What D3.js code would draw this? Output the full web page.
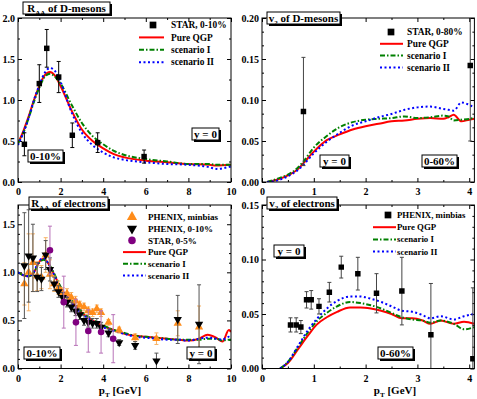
<!DOCTYPE html>
<html>
<head>
<meta charset="utf-8">
<script src="https://cdn.jsdelivr.net/npm/d3@7"></script>
<style>
  body { margin: 0; background: #fff; }
  svg { display: block; }
</style>
</head>
<body>
<svg id="chart" width="477" height="399"></svg>
<script>
// ---- D-meson R_AA (top left) ----
const dRaaX   = [0, 0.25, 0.5, 0.75, 1, 1.25, 1.5, 1.75, 2, 2.5, 3, 3.5, 4, 4.5, 5, 6, 7, 8, 9, 9.3, 10];
const dRaaQGP = [0.47, 0.62, 0.8, 1.0, 1.17, 1.3, 1.34, 1.29, 1.17, 0.88, 0.64, 0.5, 0.41, 0.34, 0.3, 0.26, 0.24, 0.22, 0.21, 0.2, 0.21];
const dRaaS1  = [0.47, 0.6, 0.78, 0.98, 1.15, 1.28, 1.32, 1.28, 1.2, 0.95, 0.72, 0.56, 0.46, 0.38, 0.33, 0.28, 0.25, 0.22, 0.22, 0.21, 0.21];
const dRaaS2  = [0.45, 0.6, 0.78, 1.0, 1.18, 1.33, 1.39, 1.35, 1.22, 0.86, 0.6, 0.45, 0.36, 0.3, 0.27, 0.24, 0.22, 0.21, 0.18, 0.16, 0.19];
const starDX  = [0.3, 1.0, 1.35, 1.91, 2.55, 3.74, 5.92];
const starDY  = [0.46, 1.2, 1.63, 1.28, 0.57, 0.48, 0.31];
const starDE  = [0.14, 0.23, 0.23, 0.19, 0.15, 0.12, 0.08];

// ---- D-meson v2 (top right) ----
const dV2X   = [0.1, 0.3, 0.5, 0.7, 0.8, 1.0, 1.25, 1.5, 1.75, 2.0, 2.25, 2.5, 2.75, 3.0, 3.25, 3.5, 3.6, 3.7, 3.85, 4.0, 4.1];
const dV2QGP = [0, 0.003, 0.008, 0.016, 0.023, 0.037, 0.051, 0.058, 0.064, 0.068, 0.071, 0.074, 0.075, 0.077, 0.078, 0.077, 0.079, 0.082, 0.074, 0.076, 0.077];
const dV2S1  = [0, 0.004, 0.009, 0.018, 0.025, 0.042, 0.056, 0.067, 0.073, 0.076, 0.077, 0.078, 0.08, 0.078, 0.079, 0.081, 0.08, 0.075, 0.076, 0.077, 0.078];
const dV2S2  = [0, 0.002, 0.007, 0.015, 0.021, 0.035, 0.049, 0.06, 0.069, 0.074, 0.079, 0.083, 0.088, 0.091, 0.092, 0.089, 0.088, 0.087, 0.097, 0.094, 0.091];
const starV2X = [0.8, 4.02];
const starV2Y = [0.086, 0.142];
const starV2E = [0.066, 0.092];

// ---- electron R_AA (bottom left) ----
const eRaaX   = [0, 0.25, 0.5, 0.75, 1, 1.2, 1.4, 1.6, 1.8, 2, 2.5, 3, 3.5, 4, 4.5, 5, 5.5, 6, 6.5, 7, 7.5, 8, 8.5, 8.9, 9.3, 9.6, 9.9, 10];
const eRaaQGP = [1.0, 0.97, 0.96, 1.0, 1.11, 1.14, 1.1, 1.02, 0.93, 0.84, 0.7, 0.58, 0.5, 0.44, 0.4, 0.36, 0.34, 0.33, 0.32, 0.31, 0.3, 0.29, 0.31, 0.35, 0.32, 0.28, 0.4, 0.38];
const eRaaS1  = [1.0, 0.97, 0.96, 1.0, 1.1, 1.13, 1.1, 1.03, 0.94, 0.85, 0.71, 0.59, 0.51, 0.45, 0.4, 0.37, 0.34, 0.33, 0.32, 0.31, 0.3, 0.3, 0.3, 0.31, 0.31, 0.29, 0.3, 0.3];
const eRaaS2  = [1.0, 0.97, 0.96, 1.01, 1.12, 1.15, 1.1, 1.02, 0.92, 0.83, 0.69, 0.57, 0.49, 0.43, 0.39, 0.36, 0.33, 0.32, 0.31, 0.3, 0.3, 0.29, 0.31, 0.32, 0.31, 0.3, 0.33, 0.32];
const phxMbX = [0.3, 0.5, 0.7, 0.9, 1.1, 1.3, 1.5, 1.7, 1.9, 2.1, 2.3, 2.5, 2.7, 2.9, 3.1, 3.3, 3.5, 3.7, 3.9, 4.25, 4.75, 5.5, 6.5, 7.5, 8.5];
const phxMbY = [0.88, 1.0, 1.1, 0.96, 0.95, 1.18, 0.98, 0.88, 0.84, 0.78, 0.78, 0.74, 0.7, 0.66, 0.64, 0.6, 0.58, 0.62, 0.58, 0.48, 0.4, 0.32, 0.31, 0.47, 0.43];
const phxMbE = [0.22, 0.4, 0.3, 0.15, 0.12, 0.18, 0.15, 0.08, 0.07, 0.06, 0.05, 0.05, 0.05, 0.04, 0.04, 0.04, 0.04, 0.04, 0.04, 0.03, 0.03, 0.04, 0.06, 0.13, 0.22];
const phxCX = [0.3, 0.5, 0.7, 0.9, 1.1, 1.3, 1.5, 1.7, 1.9, 2.1, 2.3, 2.5, 2.7, 2.9, 3.1, 3.3, 3.5, 3.7, 3.9, 4.25, 4.75, 5.5, 6.5, 7.5, 8.5];
const phxCY = [1.07, 1.17, 1.15, 0.95, 0.93, 1.18, 1.03, 0.88, 0.8, 0.74, 0.69, 0.64, 0.6, 0.56, 0.5, 0.48, 0.47, 0.47, 0.43, 0.37, 0.27, 0.24, 0.08, 0.51, 0.46];
const phxCE = [0.55, 0.48, 0.35, 0.15, 0.12, 0.15, 0.12, 0.07, 0.06, 0.05, 0.05, 0.05, 0.05, 0.05, 0.05, 0.05, 0.05, 0.05, 0.05, 0.04, 0.03, 0.04, 0.08, 0.25, 0.41];
const starEX = [1.5, 2.15, 2.72, 3.3, 3.9, 4.47];
const starEY = [1.23, 0.69, 0.48, 0.39, 0.38, 0.31];
const starEE = [0.25, 0.27, 0.24, 0.22, 0.22, 0.25];

// ---- electron v2 (bottom right) ----
const eV2X   = [0.35, 0.5, 0.7, 0.9, 1.05, 1.25, 1.45, 1.7, 1.9, 2.1, 2.3, 2.5, 2.7, 2.9, 3.1, 3.25, 3.45, 3.7, 3.9, 4.1];
const eV2QGP = [0, 0.005, 0.018, 0.031, 0.04, 0.047, 0.052, 0.056, 0.056, 0.055, 0.053, 0.05, 0.046, 0.046, 0.044, 0.041, 0.044, 0.041, 0.043, 0.041];
const eV2S1  = [0, 0.006, 0.02, 0.034, 0.043, 0.051, 0.057, 0.061, 0.06, 0.058, 0.055, 0.051, 0.047, 0.045, 0.044, 0.042, 0.044, 0.041, 0.036, 0.038];
const eV2S2  = [0, 0.006, 0.021, 0.036, 0.045, 0.055, 0.062, 0.066, 0.066, 0.064, 0.061, 0.057, 0.053, 0.052, 0.049, 0.046, 0.048, 0.045, 0.048, 0.05];
const phxV2X = [0.55, 0.66, 0.75, 0.86, 0.95, 1.1, 1.3, 1.53, 1.85, 2.21, 2.7, 3.26, 4.07];
const phxV2Y = [0.04, 0.04, 0.038, 0.063, 0.063, 0.057, 0.07, 0.093, 0.087, 0.069, 0.071, 0.031, 0.009];
const phxV2E = [0.0065, 0.0065, 0.006, 0.0075, 0.0085, 0.007, 0.009, 0.01, 0.015, 0.018, 0.031, 0.047, 0.065];

const SERIF = "'Liberation Serif', 'Times New Roman', serif";
const QGP = { name: "Pure QGP", color: "#ff0000", dash: null };
const SC1 = { name: "scenario I", color: "#008000", dash: "5,2,1.5,2" };
const SC2 = { name: "scenario II", color: "#0000ff", dash: "2,2.5" };

const svg = d3.select("#chart");
svg.append("rect").attr("width", 477).attr("height", 399).attr("fill", "#fff");

const zip = (xs, ys, es) => xs.map((v, i) => ({ x: v, y: ys[i], e: es ? es[i] : 0 }));

function drawAxis(g, axis, tr) {
  const a = g.append("g").attr("transform", tr).call(axis);
  a.select(".domain").remove();
  a.attr("font-family", SERIF).attr("font-weight", "bold").attr("font-size", 10);
  a.selectAll("line").attr("stroke", "#000");
  return a;
}

function marker(g, type, x, y, color, size) {
  const sym = { square: d3.symbolSquare, up: d3.symbolTriangle, down: d3.symbolTriangle, circle: d3.symbolCircle }[type];
  g.append("path")
    .attr("d", d3.symbol().type(sym).size(size)())
    .attr("transform", `translate(${x},${y})` + (type === "down" ? " rotate(180)" : ""))
    .attr("fill", color);
}

function panel(p) {
  const g = svg.append("g");
  const x = d3.scaleLinear().domain(p.xDomain).range([p.left, p.right]);
  const y = d3.scaleLinear().domain(p.yDomain).range([p.bottom, p.top]);

  svg.append("clipPath").attr("id", "clip" + p.id)
    .append("rect").attr("x", p.left).attr("y", p.top)
    .attr("width", p.right - p.left).attr("height", p.bottom - p.top);

  // ticks, inward on all four sides
  drawAxis(g, d3.axisBottom(x).tickValues(p.xTicks).tickSizeInner(-4).tickSizeOuter(0).tickPadding(6).tickFormat(d3.format("d")), `translate(0,${p.bottom})`);
  drawAxis(g, d3.axisBottom(x).tickValues(p.xMinor).tickSize(-2).tickFormat(""), `translate(0,${p.bottom})`);
  drawAxis(g, d3.axisTop(x).tickValues(p.xTicks).tickSize(-4).tickFormat(""), `translate(0,${p.top})`);
  drawAxis(g, d3.axisTop(x).tickValues(p.xMinor).tickSize(-2).tickFormat(""), `translate(0,${p.top})`);
  drawAxis(g, d3.axisLeft(y).tickValues(p.yTicks).tickSizeInner(-4).tickSizeOuter(0).tickPadding(3).tickFormat(d3.format(p.yFmt)), `translate(${p.left},0)`);
  drawAxis(g, d3.axisLeft(y).tickValues(p.yMinor).tickSize(-2).tickFormat(""), `translate(${p.left},0)`);
  drawAxis(g, d3.axisRight(y).tickValues(p.yTicks).tickSize(-4).tickFormat(""), `translate(${p.right},0)`);
  drawAxis(g, d3.axisRight(y).tickValues(p.yMinor).tickSize(-2).tickFormat(""), `translate(${p.right},0)`);

  const plot = g.append("g").attr("clip-path", `url(#clip${p.id})`);

  // curves
  const line = d3.line().x(d => x(d.x)).y(d => y(d.y)).curve(d3.curveMonotoneX);
  p.curves.forEach(c => {
    plot.append("path").datum(zip(p.curveX, c.values))
      .attr("d", line).attr("fill", "none")
      .attr("stroke", c.style.color).attr("stroke-width", 2)
      .attr("stroke-dasharray", c.style.dash);
  });

  // data points with error bars
  p.points.forEach(s => {
    zip(s.x, s.y, s.e).forEach(d => {
      const x0 = x(d.x), yt = y(d.y + d.e), yb = y(d.y - d.e);
      plot.append("line").attr("x1", x0).attr("x2", x0).attr("y1", yt).attr("y2", yb)
        .attr("stroke", s.bar).attr("stroke-width", 1);
      [yt, yb].forEach(yy => plot.append("line").attr("x1", x0 - 2).attr("x2", x0 + 2)
        .attr("y1", yy).attr("y2", yy).attr("stroke", s.bar).attr("stroke-width", 1));
    });
    s.x.forEach((v, i) => marker(plot, s.type, x(v), y(s.y[i]), s.color, s.size));
  });

  // frame
  g.append("rect").attr("x", p.left).attr("y", p.top)
    .attr("width", p.right - p.left).attr("height", p.bottom - p.top)
    .attr("fill", "none").attr("stroke", "#000").attr("stroke-width", 1);

  // legend
  const lg = g.append("g").attr("font-family", SERIF).attr("font-weight", "bold").attr("font-size", p.legend.font);
  p.legend.entries.forEach((en, i) => {
    const ly = p.legend.y + i * p.legend.step;
    if (en.style) {
      lg.append("line").attr("x1", p.legend.lineX[0]).attr("x2", p.legend.lineX[1])
        .attr("y1", ly).attr("y2", ly).attr("stroke", en.style.color)
        .attr("stroke-width", 2).attr("stroke-dasharray", en.style.dash);
    } else {
      marker(lg, en.type, p.legend.markX, ly, en.color, en.size);
    }
    lg.append("text").attr("x", p.legend.textX).attr("y", ly).attr("dy", "0.35em")
      .text(en.style ? en.style.name : en.label);
  });

  p.boxes.forEach(b => labelBox(b));
}

function labelBox(b) {
  const g = svg.append("g");
  g.append("rect").attr("x", b.x + 2).attr("y", b.y + 2).attr("width", b.w).attr("height", b.h).attr("fill", "#000");
  g.append("rect").attr("x", b.x).attr("y", b.y).attr("width", b.w).attr("height", b.h)
    .attr("fill", "#fff").attr("stroke", "#000").attr("stroke-width", 1);
  const t = g.append("text").attr("x", b.x + b.w / 2).attr("y", b.y + b.h / 2).attr("dy", "0.35em")
    .attr("text-anchor", "middle").attr("font-family", SERIF).attr("font-weight", "bold").attr("font-size", 11);
  if (b.sub) {
    t.append("tspan").text(b.main);
    t.append("tspan").attr("font-size", 7).attr("dy", 3).text(b.sub);
    t.append("tspan").attr("dy", -3).text(b.rest);
  } else {
    t.text(b.main);
  }
}

function xTitle(cx) {
  const t = svg.append("text").attr("x", cx).attr("y", 390).attr("dy", "0.35em")
    .attr("text-anchor", "middle").attr("font-family", SERIF).attr("font-weight", "bold").attr("font-size", 11);
  t.append("tspan").text("p");
  t.append("tspan").attr("font-size", 7).attr("dy", 3).text("T");
  t.append("tspan").attr("dy", -3).text(" [GeV]");
}

const rng = (a, b, s) => d3.range(a, b + s / 2, s);

panel({
  id: "tl", left: 18, right: 231, top: 18, bottom: 182,
  xDomain: [0, 10], yDomain: [0, 2], xTicks: rng(0, 10, 2), xMinor: rng(1, 9, 2),
  yTicks: rng(0, 2, 0.5), yMinor: rng(0.25, 1.75, 0.5), yFmt: ".1f",
  curveX: dRaaX,
  curves: [{ values: dRaaQGP, style: QGP }, { values: dRaaS1, style: SC1 }, { values: dRaaS2, style: SC2 }],
  points: [{ x: starDX, y: starDY, e: starDE, type: "square", color: "#000", bar: "#000", size: 30 }],
  legend: { y: 25, step: 12.4, markX: 153, lineX: [139, 164], textX: 171, font: 9.4,
    entries: [{ type: "square", color: "#000", size: 45, label: "STAR, 0-10%" }, { style: QGP }, { style: SC1 }, { style: SC2 }] },
  boxes: [
    { x: 23, y: 2, w: 87, h: 12, main: "R", sub: "AA", rest: " of D-mesons" },
    { x: 28, y: 150, w: 35, h: 12, main: "0-10%" },
    { x: 192, y: 128, w: 27, h: 12, main: "y = 0" }
  ]
});

panel({
  id: "tr", left: 262, right: 474.4, top: 18, bottom: 182,
  xDomain: [0, 4.1], yDomain: [0, 0.2], xTicks: rng(0, 4, 1), xMinor: rng(0.5, 3.5, 1),
  yTicks: rng(0, 0.2, 0.05), yMinor: d3.range(0, 0.2, 0.05).flatMap(v => [v + 0.05 / 3, v + 0.1 / 3]), yFmt: ".2f",
  curveX: dV2X,
  curves: [{ values: dV2QGP, style: QGP }, { values: dV2S1, style: SC1 }, { values: dV2S2, style: SC2 }],
  points: [{ x: starV2X, y: starV2Y, e: starV2E, type: "square", color: "#000", bar: "#444", size: 30 }],
  legend: { y: 32, step: 11.8, markX: 391, lineX: [380, 403], textX: 407, font: 9.4,
    entries: [{ type: "square", color: "#000", size: 45, label: "STAR, 0-80%" }, { style: QGP }, { style: SC1 }, { style: SC2 }] },
  boxes: [
    { x: 267, y: 12, w: 73, h: 12, main: "v", sub: "2", rest: " of D-mesons" },
    { x: 320, y: 155, w: 29, h: 12, main: "y = 0" },
    { x: 422, y: 155, w: 35, h: 12, main: "0-60%" }
  ]
});

panel({
  id: "bl", left: 18, right: 231, top: 205, bottom: 368.5,
  xDomain: [0, 10], yDomain: [0, 1.7], xTicks: rng(0, 10, 2), xMinor: rng(1, 9, 2),
  yTicks: rng(0, 1.5, 0.5), yMinor: rng(0.1, 1.6, 0.1).filter(v => Math.abs(v * 2 - Math.round(v * 2)) > 1e-6), yFmt: ".1f",
  curveX: eRaaX,
  curves: [{ values: eRaaQGP, style: QGP }, { values: eRaaS1, style: SC1 }, { values: eRaaS2, style: SC2 }],
  points: [
    { x: phxMbX, y: phxMbY, e: phxMbE, type: "up", color: "#ff8c1a", bar: "#f7b265", size: 30 },
    { x: phxCX, y: phxCY, e: phxCE, type: "down", color: "#000", bar: "#555", size: 30 },
    { x: starEX, y: starEY, e: starEE, type: "circle", color: "#800080", bar: "#b873b8", size: 34 }
  ],
  legend: { y: 217, step: 11.7, markX: 132, lineX: [123, 146], textX: 148, font: 9,
    entries: [
      { type: "up", color: "#ff8c1a", size: 45, label: "PHENIX, minbias" },
      { type: "down", color: "#000", size: 45, label: "PHENIX, 0-10%" },
      { type: "circle", color: "#800080", size: 45, label: "STAR, 0-5%" },
      { style: QGP }, { style: SC1 }, { style: SC2 }] },
  boxes: [
    { x: 29, y: 197, w: 79, h: 12, main: "R", sub: "AA", rest: " of electrons" },
    { x: 24, y: 347, w: 36, h: 12, main: "0-10%" },
    { x: 187, y: 347, w: 28, h: 12, main: "y = 0" }
  ]
});

panel({
  id: "br", left: 262, right: 474.4, top: 205, bottom: 368.5,
  xDomain: [0, 4.1], yDomain: [0, 0.15], xTicks: rng(0, 4, 1), xMinor: rng(0.5, 3.5, 1),
  yTicks: rng(0, 0.15, 0.05), yMinor: rng(0.01, 0.14, 0.01).filter(v => Math.abs(v * 20 - Math.round(v * 20)) > 1e-6), yFmt: ".2f",
  curveX: eV2X,
  curves: [{ values: eV2QGP, style: QGP }, { values: eV2S1, style: SC1 }, { values: eV2S2, style: SC2 }],
  points: [{ x: phxV2X, y: phxV2Y, e: phxV2E, type: "square", color: "#000", bar: "#444", size: 30 }],
  legend: { y: 215, step: 12.2, markX: 388, lineX: [373, 396], textX: 397, font: 8.8,
    entries: [{ type: "square", color: "#000", size: 45, label: "PHENIX, minbias" }, { style: QGP }, { style: SC1 }, { style: SC2 }] },
  boxes: [
    { x: 267, y: 197, w: 70, h: 12, main: "v", sub: "2", rest: " of electrons" },
    { x: 274, y: 245, w: 30, h: 12, main: "y = 0" },
    { x: 378, y: 347, w: 35, h: 12, main: "0-60%" }
  ]
});

xTitle(120);
xTitle(395);
</script>
</body>
</html>
